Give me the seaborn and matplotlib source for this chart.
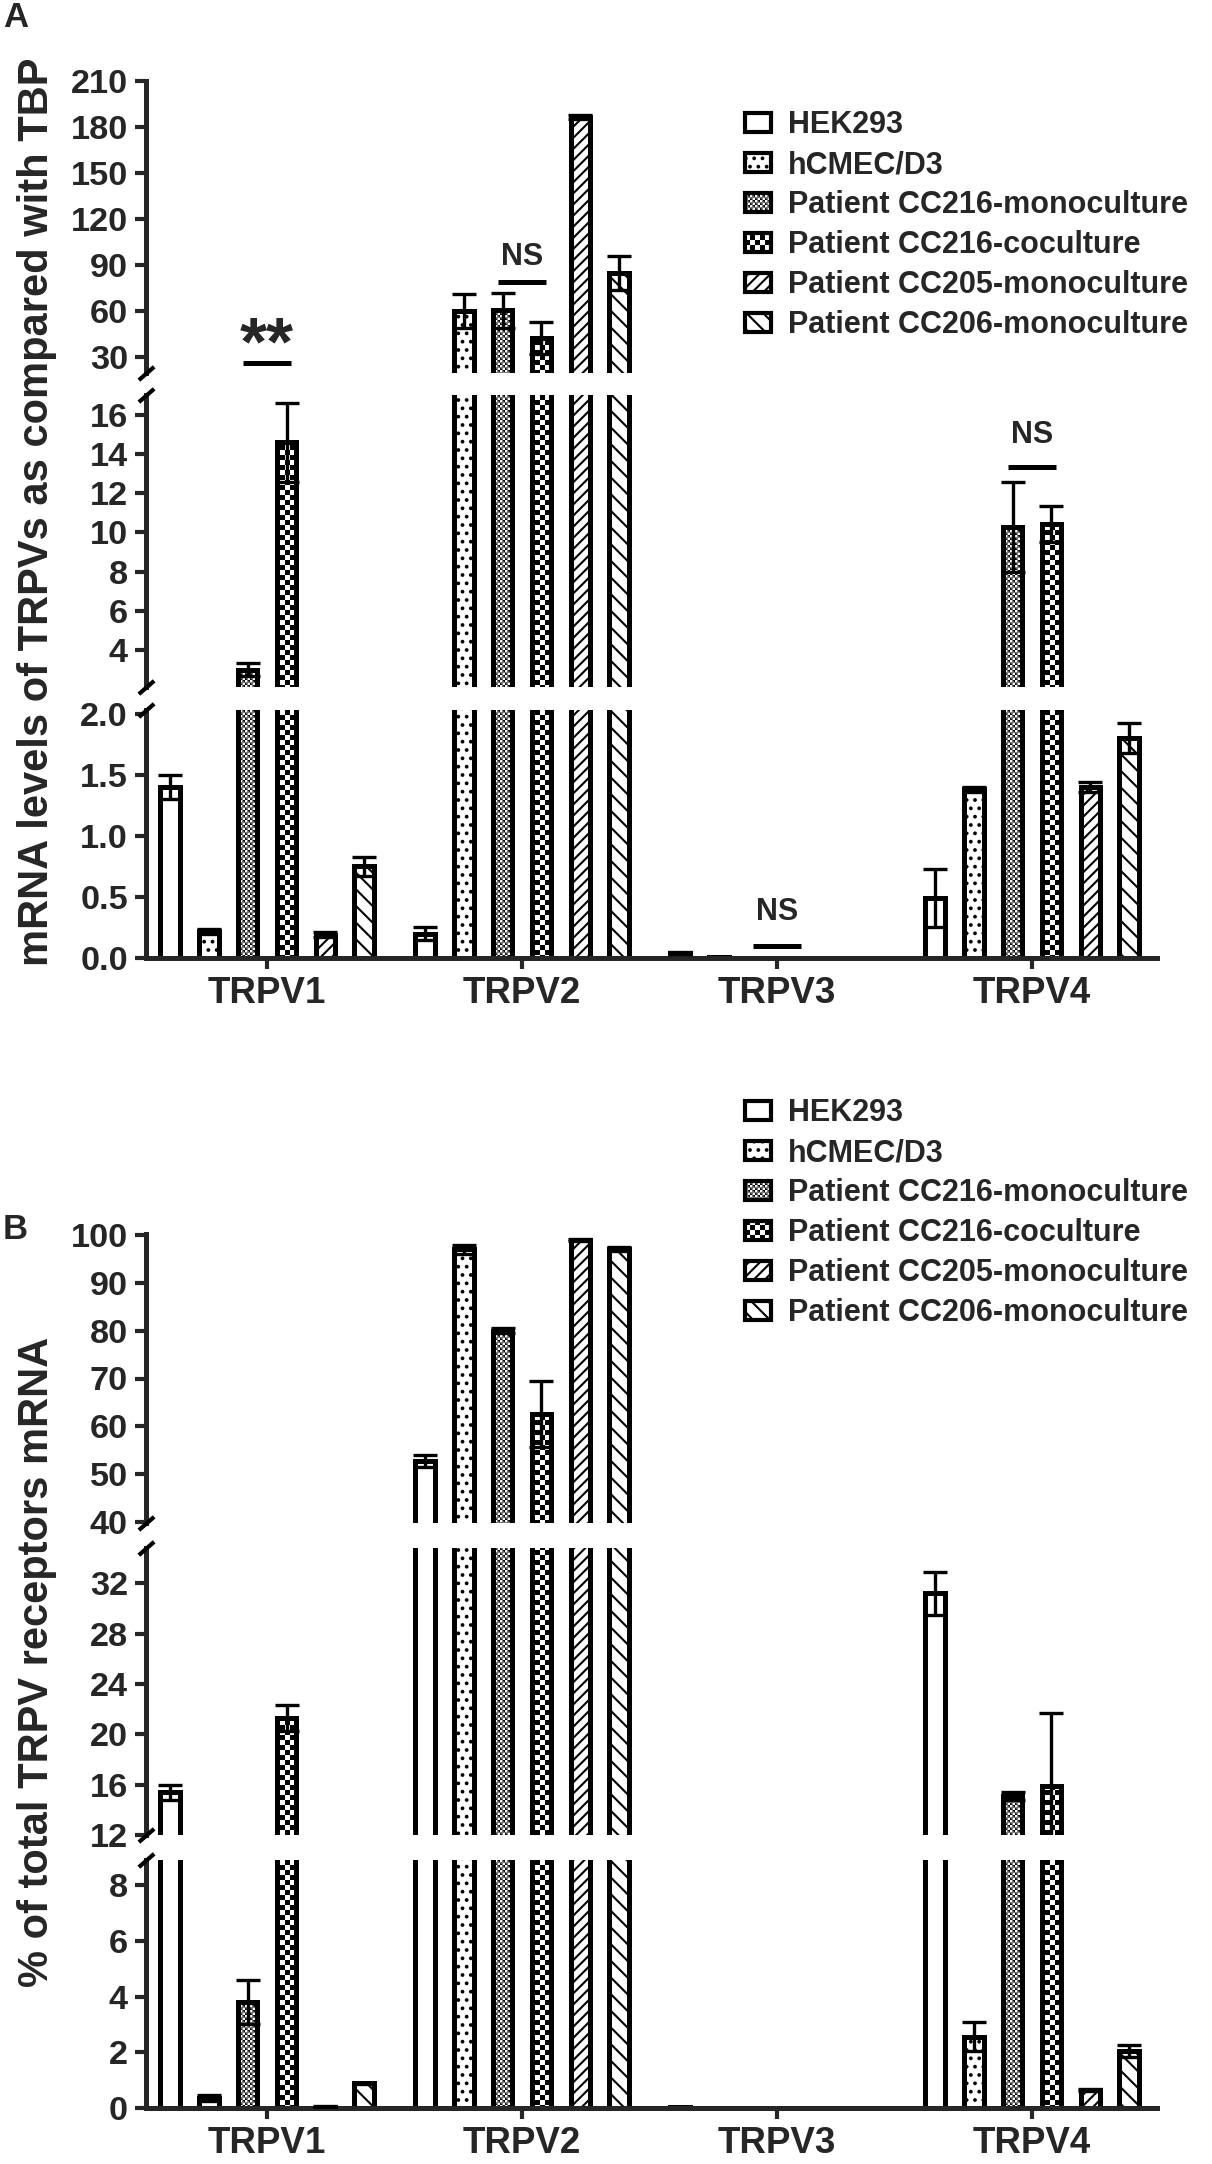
import numpy as np
import pandas as pd
import matplotlib
matplotlib.use("Agg")
import matplotlib.pyplot as plt
import matplotlib.patches as mpatches
from matplotlib import hatch as mhatch
from matplotlib.path import Path
from matplotlib.ticker import StrMethodFormatter
import seaborn as sns

# ---------------- data ----------------
genes = ["TRPV1", "TRPV2", "TRPV3", "TRPV4"]
cells = ["HEK293", "hCMEC/D3", "Patient CC216-monoculture",
         "Patient CC216-coculture", "Patient CC205-monoculture",
         "Patient CC206-monoculture"]

# Panel A: mRNA levels relative to TBP (mean, error)
a_hek293 = [1.40, 0.20, 0.04, 0.49]
a_hcmec = [0.22, 60.0, 0.005, 1.38]
a_cc216_mono = [3.0, 60.5, 0.004, 10.3]
a_cc216_co = [14.6, 42.5, 0.004, 10.45]
a_cc205 = [0.19, 186.5, 0.003, 1.40]
a_cc206 = [0.75, 85.0, 0.003, 1.80]
a_hek293_err = [0.10, 0.05, 0.01, 0.24]
a_hcmec_err = [0.02, 11.0, 0.0, 0.02]
a_cc216_mono_err = [0.32, 11.5, 0.0, 2.3]
a_cc216_co_err = [2.0, 10.4, 0.0, 0.92]
a_cc205_err = [0.02, 1.2, 0.0, 0.04]
a_cc206_err = [0.08, 11.0, 0.0, 0.12]

# Panel B: % of total TRPV receptors mRNA (mean, error)
b_hek293 = [15.4, 52.8, 0.02, 31.2]
b_hcmec = [0.35, 97.0, 0.0, 2.55]
b_cc216_mono = [3.8, 80.0, 0.0, 15.1]
b_cc216_co = [21.3, 62.6, 0.0, 15.9]
b_cc205 = [0.05, 99.0, 0.0, 0.65]
b_cc206 = [0.88, 97.0, 0.0, 2.05]
b_hek293_err = [0.6, 1.3, 0.0, 1.7]
b_hcmec_err = [0.1, 0.9, 0.0, 0.52]
b_cc216_mono_err = [0.8, 0.5, 0.0, 0.3]
b_cc216_co_err = [1.0, 6.9, 0.0, 5.8]
b_cc205_err = [0.02, 0.2, 0.0, 0.03]
b_cc206_err = [0.03, 0.4, 0.0, 0.22]

y_label_a = "mRNA levels of TRPVs as compared with TBP"
y_label_b = "% of total TRPV receptors mRNA"


def long_df(means, errs):
    rows = []
    for cell, m, e in zip(cells, means, errs):
        for g, v, ee in zip(genes, m, e):
            rows.append(dict(gene=g, cell=cell, value=v, err=ee))
    return pd.DataFrame(rows)


dfA = long_df([a_hek293, a_hcmec, a_cc216_mono, a_cc216_co, a_cc205, a_cc206],
              [a_hek293_err, a_hcmec_err, a_cc216_mono_err, a_cc216_co_err,
               a_cc205_err, a_cc206_err])
dfB = long_df([b_hek293, b_hcmec, b_cc216_mono, b_cc216_co, b_cc205, b_cc206],
              [b_hek293_err, b_hcmec_err, b_cc216_mono_err, b_cc216_co_err,
               b_cc205_err, b_cc206_err])

# ---------------- checkerboard hatches ----------------
HATCH_LW = 1.5  # points
DPI = 100
_shrink = HATCH_LW * DPI / 72.0 / DPI  # stroke width in hatch-tile units


class _Checker(mhatch.HatchPatternBase):
    char = "O"
    per_char = 10

    def __init__(self, hatch, density):
        n = hatch.count(self.char)
        self.k = n * self.per_char
        self.num_vertices = 2 * self.k * self.k * 5 if n else 0

    def set_vertices_and_codes(self, vertices, codes):
        k = self.k
        s = 1.0 / (2 * k)
        side = max(s - _shrink, 0.001)
        sq = np.array([[0, 0], [1, 0], [1, 1], [0, 1], [0, 0]], float) * side + (s - side) / 2
        parts = []
        for i in range(2 * k):
            for j in range(2 * k):
                if (i + j) % 2 == 0:
                    parts.append(sq + [i * s, j * s])
        vertices[:] = np.concatenate(parts)
        c = np.array([Path.MOVETO, Path.LINETO, Path.LINETO, Path.LINETO,
                      Path.CLOSEPOLY], Path.code_type)
        codes[:] = np.tile(c, len(parts))


class CoarseChecker(_Checker):
    char = "O"
    per_char = 10


class FineChecker(_Checker):
    char = "*"
    per_char = 20


mhatch._hatch_types[:] = [c for c in mhatch._hatch_types
                          if c not in (mhatch.LargeCircles, mhatch.Stars)] + \
                         [CoarseChecker, FineChecker]

hatches = ["", "..", "*", "O", "///", "\\\\"]

# ---------------- style ----------------
sns.set_style("ticks")
plt.rcParams["font.family"] = ["Liberation Sans", "DejaVu Sans"]
plt.rcParams["font.weight"] = "bold"
plt.rcParams["hatch.linewidth"] = HATCH_LW
plt.rcParams["hatch.color"] = "black"

W, H = 1212, 2164
fig = plt.figure(figsize=(W / DPI, H / DPI), dpi=DPI)
X0, X1 = 146, 1157
XLIM = (-0.475, 3.49)
SPINE_LW = 3.6
palette = {c: "white" for c in cells}


def add_ax(top, bottom):
    return fig.add_axes([X0 / W, 1 - bottom / H, (X1 - X0) / W, (bottom - top) / H])


def draw_segment(ax, df, ylim, ticks, fmt, is_bottom):
    sns.barplot(data=df, x="gene", y="value", hue="cell", order=genes,
                hue_order=cells, palette=palette, saturation=1, width=0.913,
                gap=0.5, errorbar=None, edgecolor="black", linewidth=3.6,
                legend=False, ax=ax, zorder=2)
    for cont, h, cell in zip(ax.containers, hatches, cells):
        sub = df[df.cell == cell].set_index("gene")
        xs, ys, es = [], [], []
        for p in cont:
            p.set_hatch(h)
            xc = p.get_x() + p.get_width() / 2
            g = genes[int(round(xc))]
            if sub.loc[g, "err"] > 0:
                xs.append(xc)
                ys.append(sub.loc[g, "value"])
                es.append(sub.loc[g, "err"])
        if xs:
            ax.errorbar(xs, ys, yerr=es, fmt="none", ecolor="black",
                        elinewidth=2.4, capsize=8.5, capthick=2.4, zorder=3)
    ax.set_xlim(*XLIM)
    ax.set_ylim(*ylim)
    ax.set_yticks(ticks)
    ax.yaxis.set_major_formatter(StrMethodFormatter(fmt))
    ax.set_xlabel("")
    ax.set_ylabel("")
    for s in ("top", "right"):
        ax.spines[s].set_visible(False)
    ax.spines["left"].set_linewidth(SPINE_LW)
    ax.spines["bottom"].set_linewidth(SPINE_LW)
    ax.tick_params(axis="y", length=8, width=3.0, labelsize=24.7, pad=5)
    if is_bottom:
        ax.tick_params(axis="x", length=8, width=3.0, labelsize=26.5, pad=5)
    else:
        ax.spines["bottom"].set_visible(False)
        ax.tick_params(axis="x", bottom=False, labelbottom=False)
    for lab in ax.get_xticklabels() + ax.get_yticklabels():
        lab.set_fontweight("bold")
    ax.patch.set_alpha(0)


def break_marks(ax, where):
    ax.plot([0], [where], transform=ax.transAxes, marker=[(-1, -0.87), (1, 0.87)],
            markersize=11, mew=3.0, color="black", mec="black", linestyle="none",
            clip_on=False, zorder=5)


def build_panel(df, segs):
    axes = []
    for i, (top, bottom, ylim, ticks, fmt) in enumerate(segs):
        ax = add_ax(top, bottom)
        draw_segment(ax, df, ylim, ticks, fmt, i == len(segs) - 1)
        axes.append(ax)
    for i, ax in enumerate(axes):
        if i > 0:
            break_marks(ax, 1)
        if i < len(axes) - 1:
            break_marks(ax, 0)
    return axes


segsA = [(81, 373, (19.6, 210), np.arange(30, 211, 30), "{x:.0f}"),
         (395, 687, (2.11, 17.02), np.arange(4, 17, 2), "{x:.0f}"),
         (710, 958, (0, 2.03), np.arange(0, 2.01, 0.5), "{x:.1f}")]
segsB = [(1234, 1523, (39.8, 100.2), np.arange(40, 101, 10), "{x:.0f}"),
         (1548, 1835, (12, 34.8), np.arange(12, 33, 4), "{x:.0f}"),
         (1860, 2108, (0, 8.9), np.arange(0, 9, 2), "{x:.0f}")]

axA = build_panel(dfA, segsA)
axB = build_panel(dfB, segsB)


def sig(ax, gi, y_line, y_text, text, size):
    ax.plot([gi - 0.095, gi + 0.095], [y_line, y_line], color="black", lw=3.6,
            solid_capstyle="butt", clip_on=False, zorder=4)
    ax.text(gi, y_text, text, ha="center", va="center", fontsize=size,
            fontweight="bold", clip_on=False)


sig(axA[0], 0, 26, 37, "**", 50)
sig(axA[0], 1, 79, 95, "NS", 22)
sig(axA[1], 3, 13.35, 15.0, "NS", 22)
sig(axA[2], 2, 0.098, 0.377, "NS", 22)

# y labels and panel letters
fig.text(37 / W, 1 - 512 / H, y_label_a, rotation=90, ha="center", va="center",
         fontsize=30, fontweight="bold")
fig.text(37 / W, 1 - 1662 / H, y_label_b, rotation=90, ha="center", va="center",
         fontsize=30, fontweight="bold")
fig.text(3 / W, 1 - 1 / H, "A", ha="left", va="top", fontsize=25, fontweight="bold")
fig.text(3 / W, 1 - 1213 / H, "B", ha="left", va="top", fontsize=25, fontweight="bold")

# legends
handles = [mpatches.Patch(facecolor="white", edgecolor="black", linewidth=3.0,
                          hatch=h, label=c) for h, c in zip(hatches, cells)]
for top_px in (110, 1098):
    fig.legend(handles=handles, loc="upper left",
               bbox_to_anchor=(745 / W, 1 - top_px / H), frameon=False,
               prop=dict(weight="bold", size=22),
               handlelength=0.85, handleheight=0.6, handletextpad=0.55,
               labelspacing=0.33, borderpad=0, borderaxespad=0)

fig.savefig("out.png", dpi=DPI)
